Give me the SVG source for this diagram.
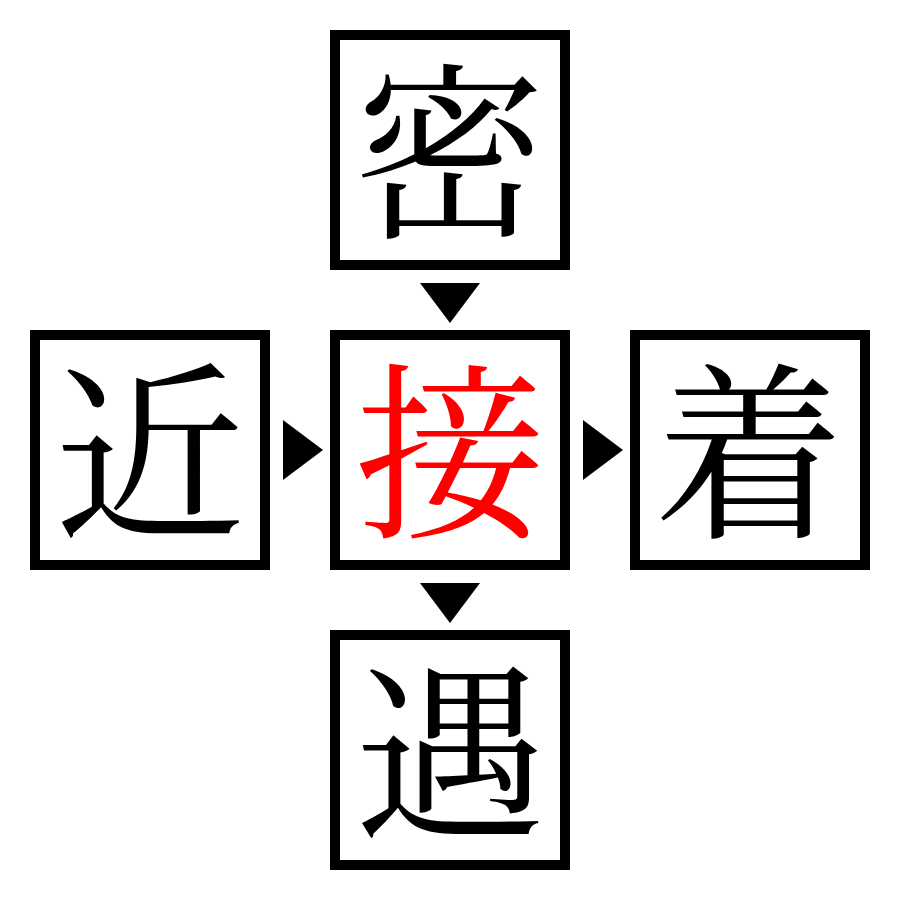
<svg xmlns="http://www.w3.org/2000/svg" width="900" height="900" viewBox="0 0 900 900">
<style>
.box{fill:#fff;stroke:#000;stroke-width:10}
.ch{font-family:"Noto Serif CJK JP","Noto Sans CJK JP",serif;font-size:190px;text-anchor:middle;fill:#000}
.red{fill:#ff0000}
.arr{fill:#000}
</style>
<rect width="900" height="900" fill="#fff"/>
<g id="node-top"><rect class="box" x="335" y="35" width="230" height="230"/><text class="ch" x="450" y="223">密</text></g>
<g id="node-left"><rect class="box" x="35" y="335" width="230" height="230"/><text class="ch" x="150" y="523">近</text></g>
<g id="node-center"><rect class="box" x="335" y="335" width="230" height="230"/><text class="ch red" x="450" y="523">接</text></g>
<g id="node-right"><rect class="box" x="635" y="335" width="230" height="230"/><text class="ch" x="750" y="523">着</text></g>
<g id="node-bottom"><rect class="box" x="335" y="635" width="230" height="230"/><text class="ch" x="450" y="823">遇</text></g>
<g id="connectors">
<polygon class="arr" points="420,283 480,283 450,323"/>
<polygon class="arr" points="283,420 283,480 323,450"/>
<polygon class="arr" points="583,420 583,480 623,450"/>
<polygon class="arr" points="420,583 480,583 450,623"/>
</g>
</svg>
